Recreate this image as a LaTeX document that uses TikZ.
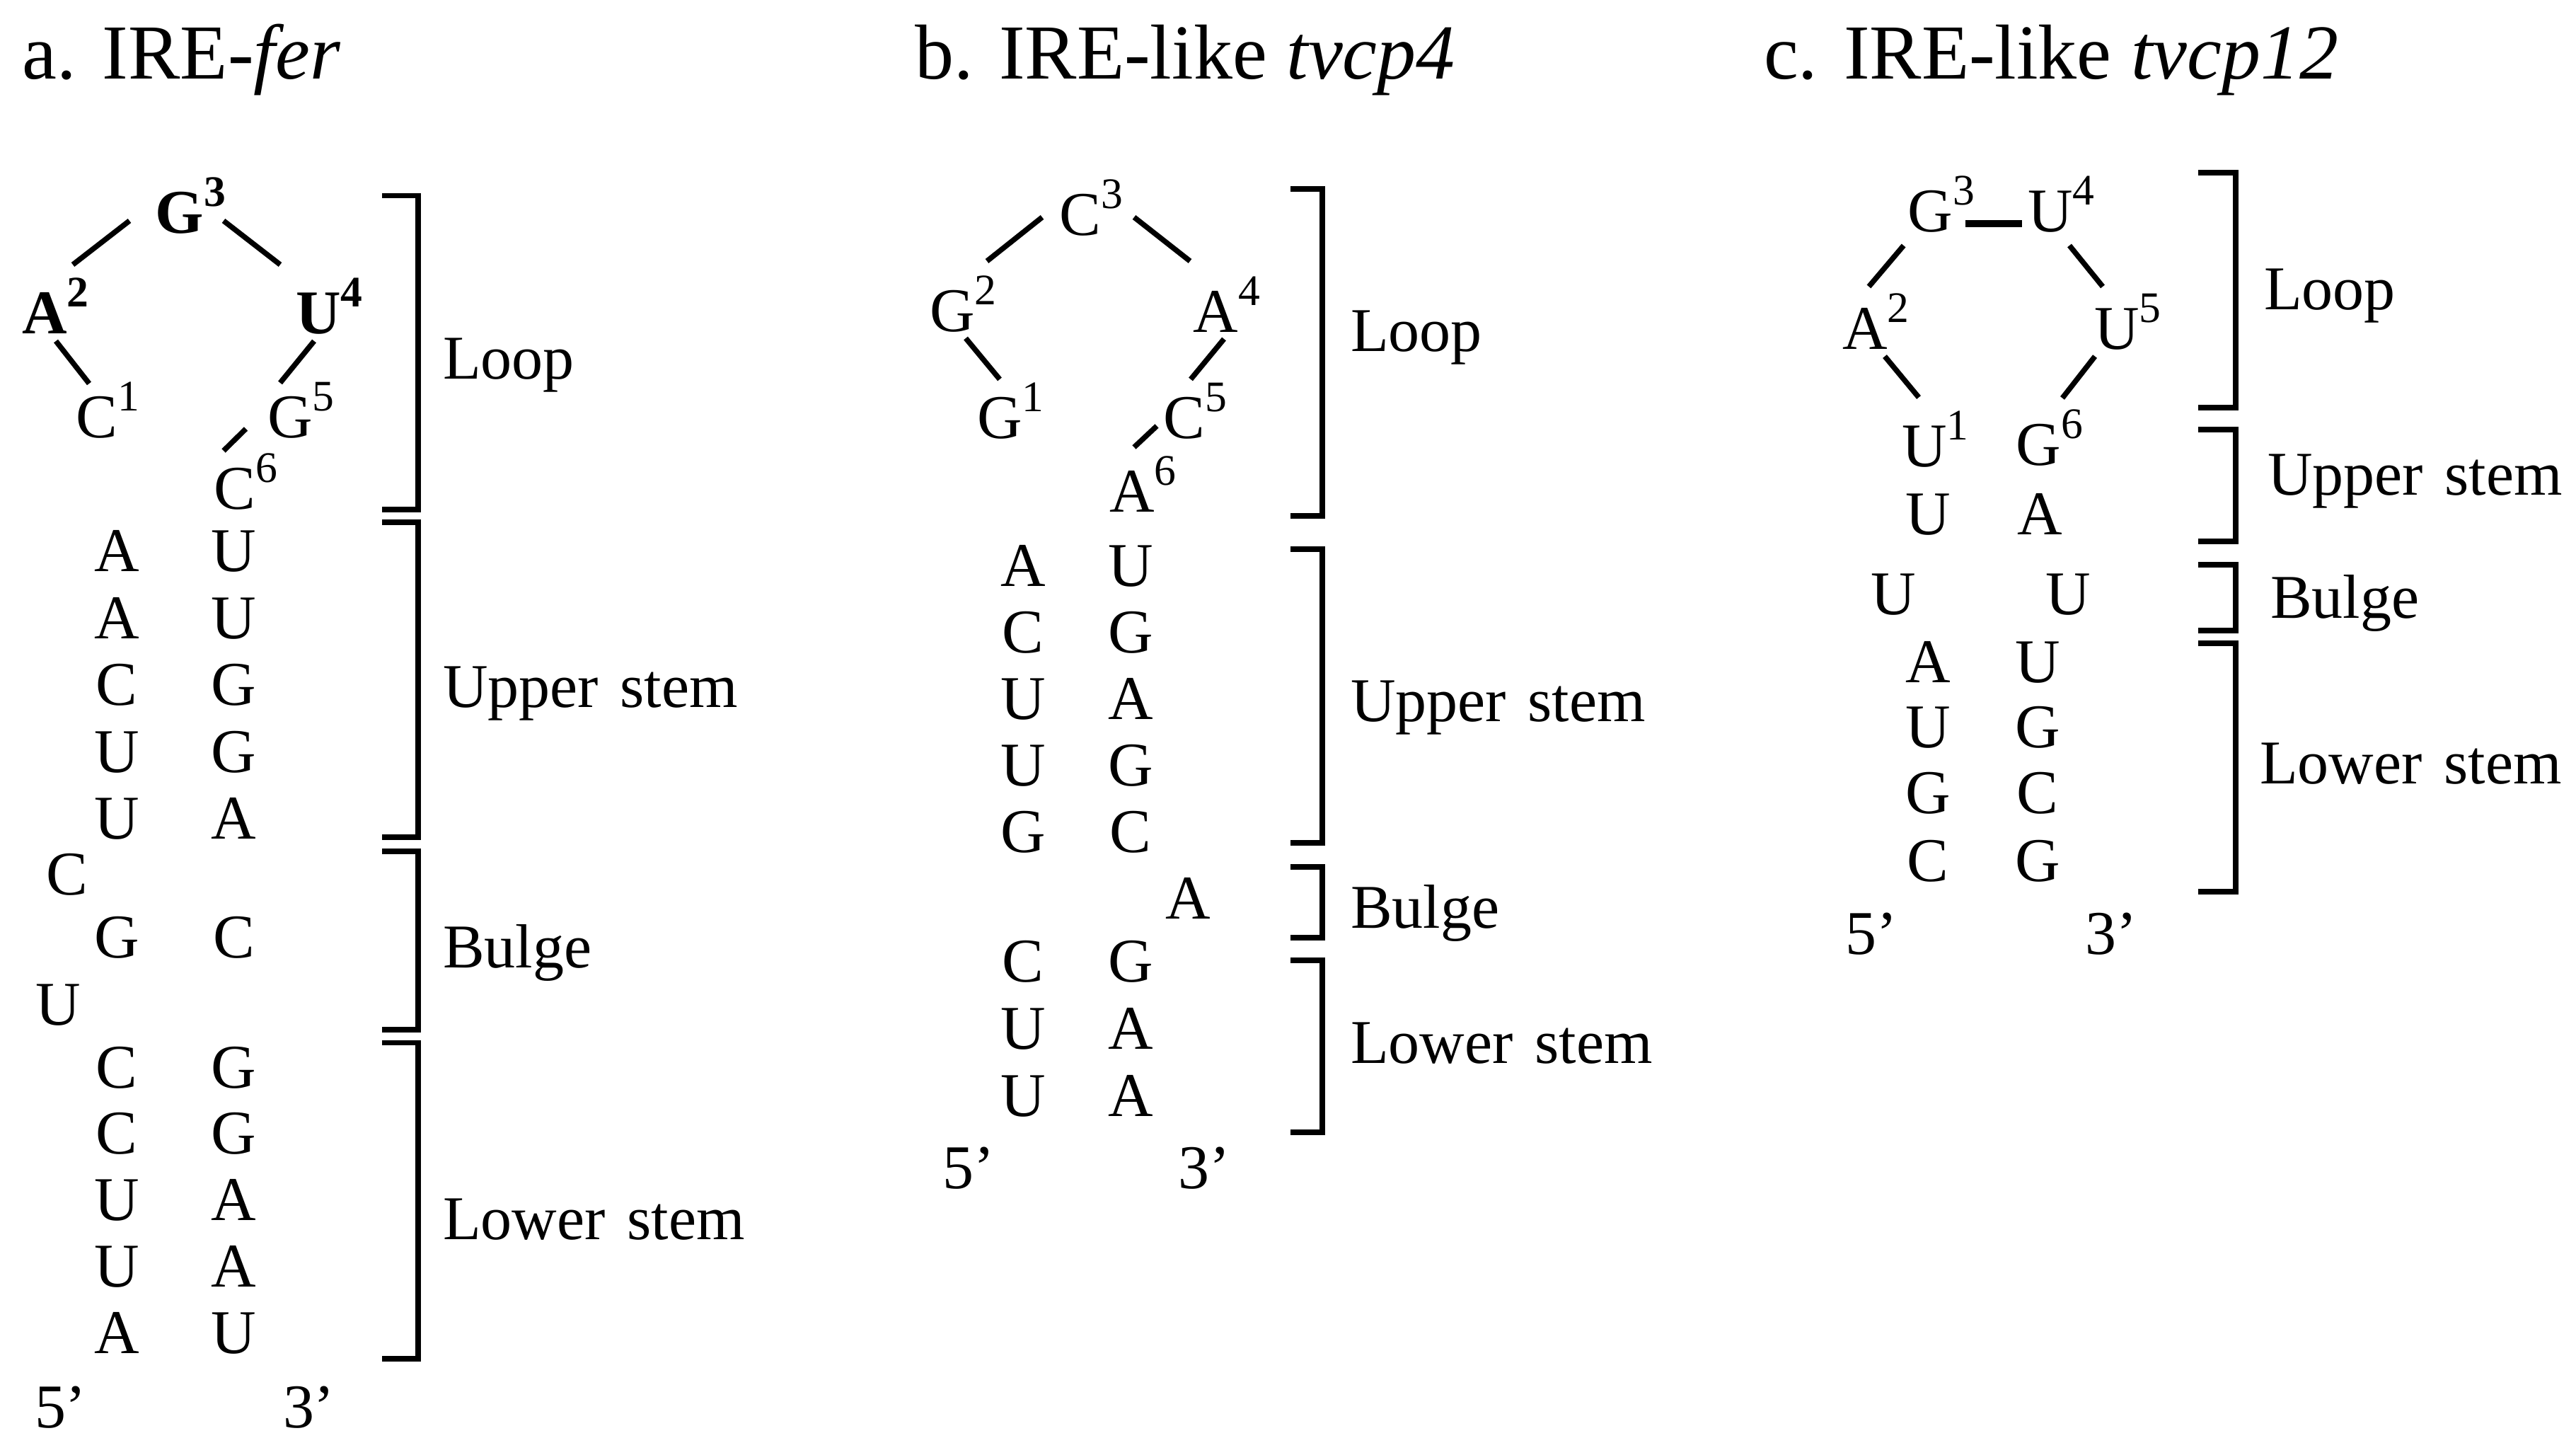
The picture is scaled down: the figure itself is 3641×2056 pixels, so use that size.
\documentclass[tikz,border=0pt]{standalone}
\usepackage{fontspec}
\setmainfont{Liberation Serif}
\newcommand\nucfont{\fontsize{8.8}{10}\selectfont}
\newcommand\ttlfont{\fontsize{11}{13}\selectfont}
\newcommand\sx[1]{\rlap{\textsuperscript{#1}}}
\begin{document}
\begin{tikzpicture}[x=0.1pt,y=-0.1pt,
  nt/.style={anchor=base,inner sep=0pt,font=\nucfont},
  lab/.style={anchor=base west,inner sep=0pt,font=\nucfont},
  ttl/.style={anchor=base west,inner sep=0pt,font=\ttlfont},
  bond/.style={line width=0.75pt},
  hbond/.style={line width=1.0pt},
  brk/.style={line width=0.75pt}]
\path[use as bounding box,fill=white] (0,0) rectangle (3641,2056);

% titles
\node[ttl] (ta) at (30,112) {a. IRE-\textit{fer}};
\node[ttl] (tb) at (1291,112) {b. IRE-like \textit{tvcp4}};
\node[ttl] (tc) at (2491,112) {c. IRE-like \textit{tvcp12}};

% ---------------- panel a ----------------
\node[nt] (a3) at (254,330) {\textbf{G\sx{3}}};
\node[nt] (a2) at (63,472) {\textbf{A\sx{2}}};
\node[nt] (a4) at (450,472) {\textbf{U\sx{4}}};
\node[nt] (a1) at (137,619) {C\sx{1}};
\node[nt] (a5) at (410,619) {G\sx{5}};
\node[nt] (a6) at (332,720) {C\sx{6}};
\draw[bond] ([shift={(40,-98)}]a2.base) -- ([shift={(-71,-18)}]a3.base);
\draw[bond] ([shift={(62,-18)}]a3.base) -- ([shift={(-54,-98)}]a4.base);
\draw[bond] ([shift={(16,10)}]a2.base) -- ([shift={(-11,-77)}]a1.base);
\draw[bond] ([shift={(-6,10)}]a4.base) -- ([shift={(-14,-78)}]a5.base);
\draw[bond] ([shift={(-62.5,-13)}]a5.base) -- ([shift={(-16,-83)}]a6.base);
\foreach \yy/\l/\r [count=\i] in {808/A/U,903/A/U,997/C/G,1092/U/G,1186/U/A}{
  \node[nt] (aul\i) at (165,\yy) {\l};
  \node[nt] (aur\i) at (330,\yy) {\r};}
\node[nt] (abc1) at (95,1265) {C};
\node[nt] (abg) at (165,1354) {G};
\node[nt] (abc2) at (331,1354) {C};
\node[nt] (abu) at (82,1449) {U};
\foreach \yy/\l/\r [count=\i] in {1538/C/G,1631/C/G,1725/U/A,1819/U/A,1913/A/U}{
  \node[nt] (all\i) at (165,\yy) {\l};
  \node[nt] (alr\i) at (330,\yy) {\r};}
\node[lab] (a5p) at (47,2018) {5’};
\node[lab] (a3p) at (398,2018) {3’};
\draw[brk] (540,276.5) -- (591,276.5) -- (591,720) -- (540,720);
\draw[brk] (540,738) -- (591,738) -- (591,1183) -- (540,1183);
\draw[brk] (540,1203) -- (591,1203) -- (591,1455) -- (540,1455);
\draw[brk] (540,1473.5) -- (591,1473.5) -- (591,1920) -- (540,1920);
\node[lab] (alloop) at (624,536) {Loop};
\node[lab] (alup) at (624,1000) {Upper\hspace{0.35em}stem};
\node[lab] (albul) at (624,1368) {Bulge};
\node[lab] (allow) at (624,1752) {Lower\hspace{0.35em}stem};

% ---------------- panel b ----------------
\node[nt] (b3) at (1527,333) {C\sx{3}};
\node[nt] (b2) at (1346,469) {G\sx{2}};
\node[nt] (b4) at (1718.5,470) {A\sx{4}};
\node[nt] (b1) at (1413,620) {G\sx{1}};
\node[nt] (b5) at (1674,620) {C\sx{5}};
\node[nt] (b6) at (1600,724) {A\sx{6}};
\draw[bond] ([shift={(49,-100)}]b2.base) -- ([shift={(-54,-26)}]b3.base);
\draw[bond] ([shift={(76,-26)}]b3.base) -- ([shift={(-36.5,-101)}]b4.base);
\draw[bond] ([shift={(19,9)}]b2.base) -- ([shift={(0,-84)}]b1.base);
\draw[bond] ([shift={(11.5,9)}]b4.base) -- ([shift={(9,-84)}]b5.base);
\draw[bond] ([shift={(-39,-18)}]b5.base) -- ([shift={(3,-92)}]b6.base);
\foreach \yy/\l/\r [count=\i] in {829/A/U,923/C/G,1017/U/A,1111/U/G,1205/G/C}{
  \node[nt] (bul\i) at (1446,\yy) {\l};
  \node[nt] (bur\i) at (1598,\yy) {\r};}
\node[nt] (bba) at (1679,1299) {A};
\foreach \yy/\l/\r [count=\i] in {1388/C/G,1483/U/A,1578/U/A}{
  \node[nt] (bll\i) at (1446,\yy) {\l};
  \node[nt] (blr\i) at (1598,\yy) {\r};}
\node[lab] (b5p) at (1330,1680) {5’};
\node[lab] (b3p) at (1663,1680) {3’};
\draw[brk] (1824,267) -- (1869,267) -- (1869,729) -- (1824,729);
\draw[brk] (1824,776) -- (1869,776) -- (1869,1191) -- (1824,1191);
\draw[brk] (1824,1225) -- (1869,1225) -- (1869,1325) -- (1824,1325);
\draw[brk] (1824,1357) -- (1869,1357) -- (1869,1600) -- (1824,1600);
\node[lab] (blloop) at (1907,497) {Loop};
\node[lab] (blup) at (1907,1020) {Upper\hspace{0.35em}stem};
\node[lab] (blbul) at (1907,1312) {Bulge};
\node[lab] (bllow) at (1907,1503) {Lower\hspace{0.35em}stem};

% ---------------- panel c ----------------
\node[nt] (c3) at (2728.6,328) {G\sx{3}};
\node[nt] (c4) at (2898,328) {U\sx{4}};
\node[nt] (c2) at (2636,494) {A\sx{2}};
\node[nt] (c5) at (2992,494) {U\sx{5}};
\node[nt] (c1) at (2720,660) {U\sx{1}};
\node[nt] (c6) at (2881.5,658) {G\sx{6}};
\draw[bond] ([shift={(5.5,-89)}]c2.base) -- ([shift={(-38,19)}]c3.base);
\draw[hbond] ([shift={(49,-12)}]c3.base) -- ([shift={(-40,-12)}]c4.base);
\draw[bond] ([shift={(27,19)}]c4.base) -- ([shift={(-20,-89)}]c5.base);
\draw[bond] ([shift={(28,9.6)}]c2.base) -- ([shift={(-8,-98.4)}]c1.base);
\draw[bond] ([shift={(-31,9.6)}]c5.base) -- ([shift={(33.5,-95.5)}]c6.base);
\node[nt] (cul) at (2725,756) {U};
\node[nt] (cur) at (2883,756) {A};
\node[nt] (cbl) at (2676,869) {U};
\node[nt] (cbr) at (2923,869) {U};
\foreach \yy/\l/\r [count=\i] in {965/A/U,1057/U/G,1150/G/C,1246/C/G}{
  \node[nt] (cll\i) at (2725,\yy) {\l};
  \node[nt] (clr\i) at (2880,\yy) {\r};}
\node[lab] (c5p) at (2606,1349) {5’};
\node[lab] (c3p) at (2945,1349) {3’};
\draw[brk] (3107,244) -- (3160,244) -- (3160,576) -- (3107,576);
\draw[brk] (3107,607) -- (3160,607) -- (3160,765) -- (3107,765);
\draw[brk] (3107,798) -- (3160,798) -- (3160,891) -- (3107,891);
\draw[brk] (3107,909) -- (3160,909) -- (3160,1260) -- (3107,1260);
\node[lab] (clloop) at (3198,438) {Loop};
\node[lab] (clup) at (3203,700) {Upper\hspace{0.35em}stem};
\node[lab] (clbul) at (3207,874) {Bulge};
\node[lab] (cllow) at (3192,1108) {Lower\hspace{0.35em}stem};
\end{tikzpicture}
\end{document}
